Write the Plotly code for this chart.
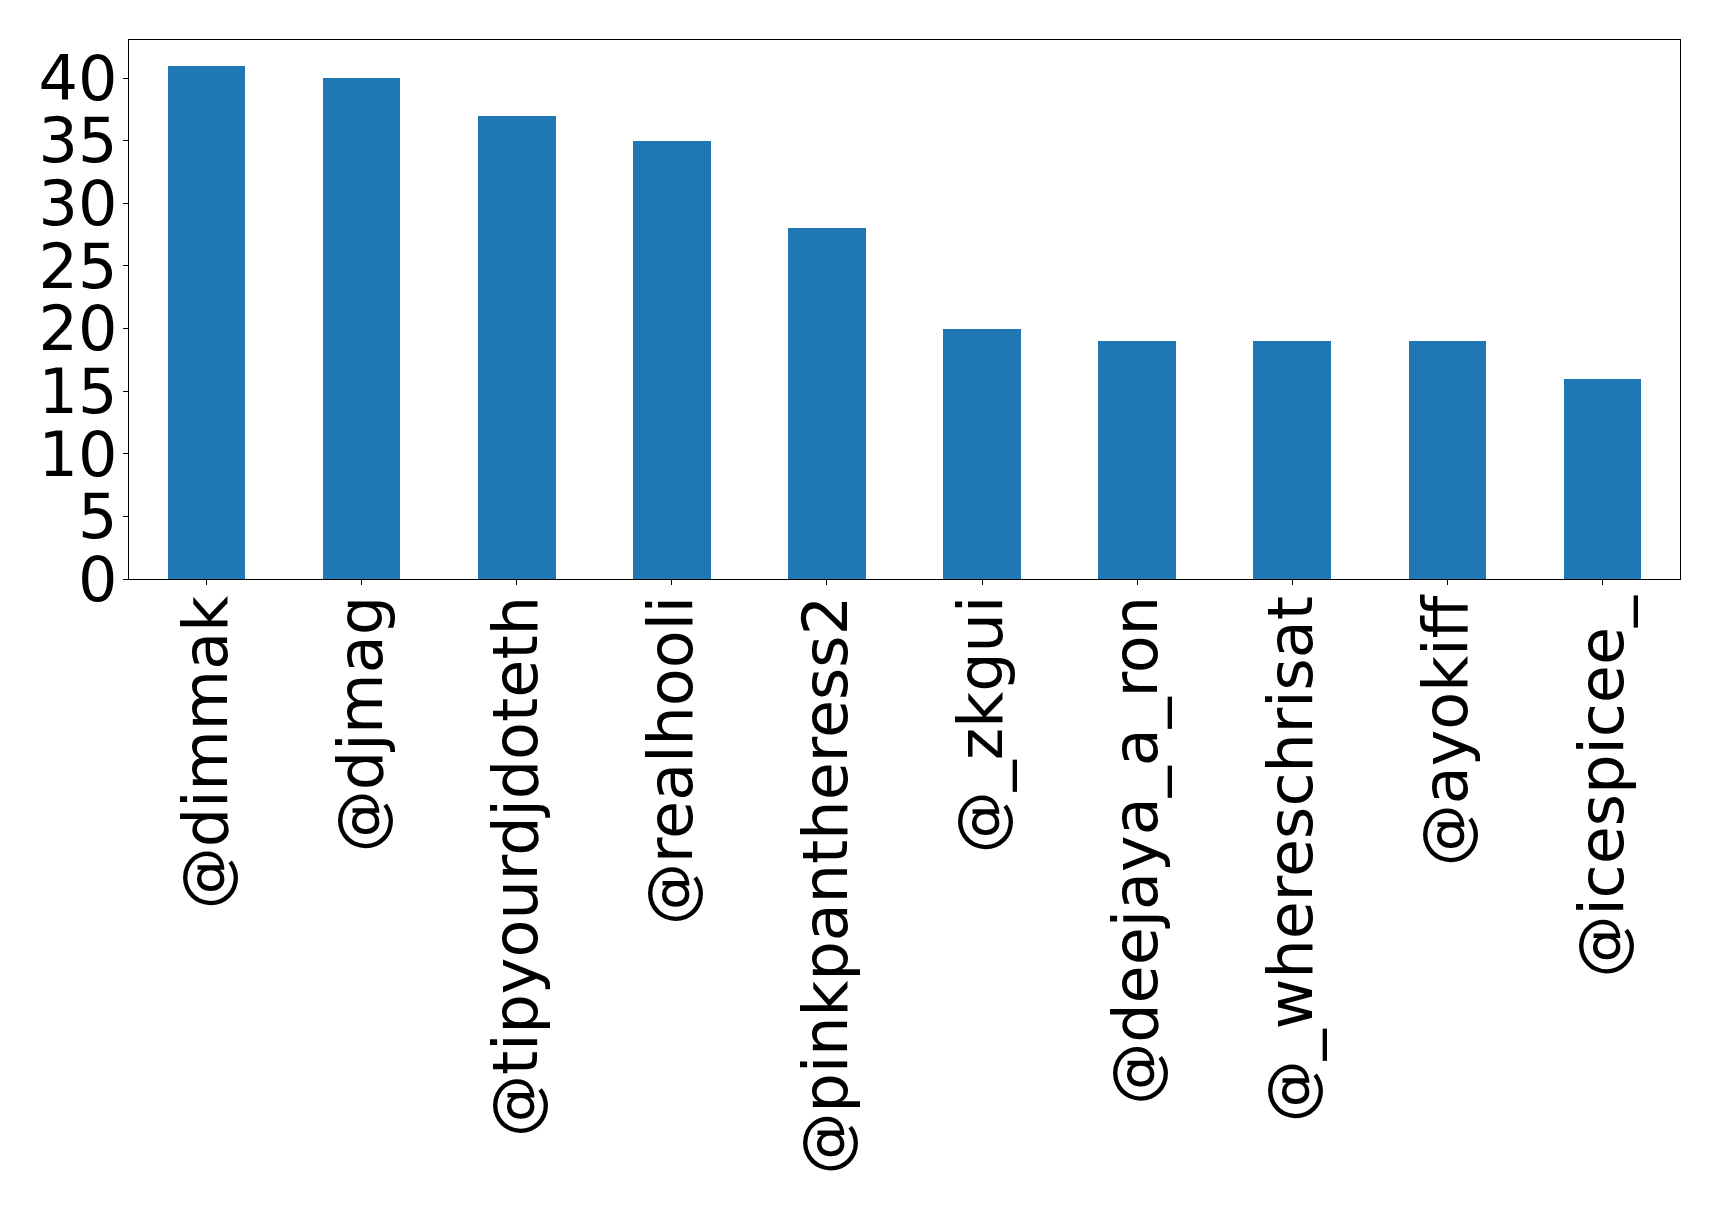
import plotly.graph_objects as go

categories = ["@dimmak", "@djmag", "@tipyourdjdoteth", "@realhooli", "@pinkpantheress2",
              "@_zkgui", "@deejaya_a_ron", "@_whereschrisat", "@ayokiff", "@icespicee_"]
counts = [41, 40, 37, 35, 28, 20, 19, 19, 19, 16]
y_ticks = [0, 5, 10, 15, 20, 25, 30, 35, 40]

fig = go.Figure(go.Bar(x=categories, y=counts, marker=dict(color="#1f77b4", line=dict(width=0)), width=0.5))

W, H = 1711, 1203
fig.update_layout(
    width=W, height=H,
    margin=dict(l=121, r=39, t=32, b=632, autoexpand=False),
    plot_bgcolor="white", paper_bgcolor="white",
    font=dict(family="DejaVu Sans", size=62, color="black"),
    showlegend=False,
    bargap=0,
)
fig.update_xaxes(
    range=[-0.5, 9.5], tickangle=-90, ticks="outside", ticklen=5, tickcolor="black",
    showline=True, linecolor="black", linewidth=1.2, mirror=True, showgrid=False,
    tickfont=dict(size=62), ticklabelstandoff=-14,
)
fig.update_yaxes(
    range=[0, 43.05], tickvals=y_ticks, ticks="outside", ticklen=5, tickcolor="black",
    showline=True, linecolor="black", linewidth=1.2, mirror=True, showgrid=False, zeroline=False,
    tickfont=dict(size=62), ticklabelstandoff=-7,
)
fig.write_html("out.html")
